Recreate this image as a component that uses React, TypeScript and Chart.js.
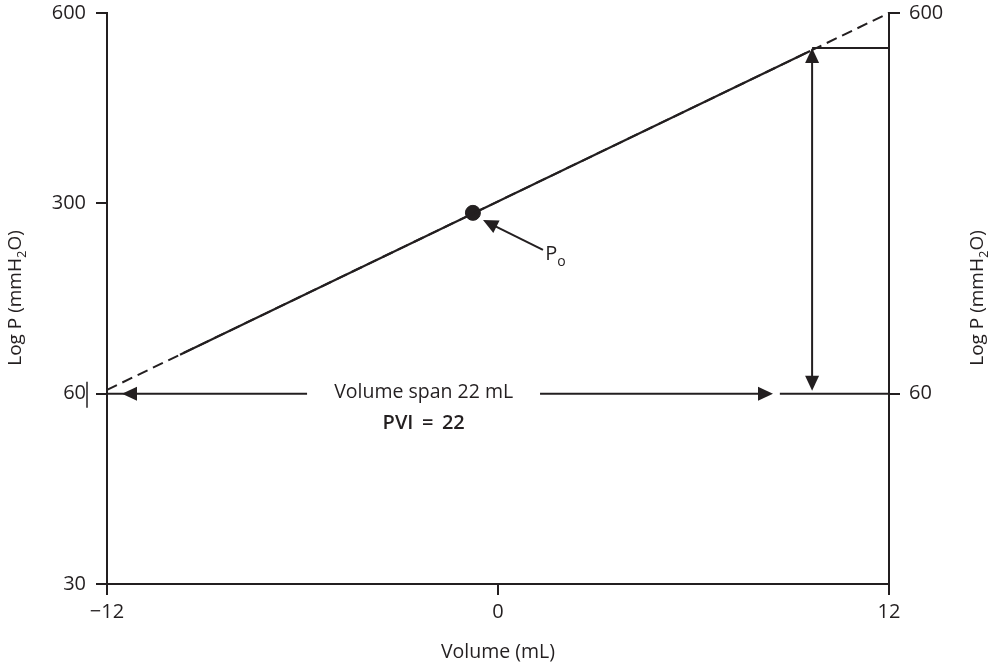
import React, { useEffect, useRef } from 'react';
import { Chart, registerables } from 'chart.js';

Chart.register(...registerables);

const FONT = '"Open Sans", "Noto Sans", sans-serif';
const INK = '#231f20';

// X axis (volume, mL)
const xTickValues = [-12, 0, 12];
const xTickLabels = ['\u221212', '0', '12'];

// Y axis: pressure levels drawn at equal spacing (position index)
const yTickValues = [0, 1, 2, 3];
const yTickLabels = ['30', '60', '300', '600'];
const yRightTickValues = [1, 3];
const yRightTickLabels = ['60', '600'];

// Pressure-volume line (extrapolated, dashed)
const lineVolumes = [-12, 12];
const lineLevels = [1.02, 3.0];
// Measured (solid) part of the line
const solidVolumes = [-9.76, 9.58];
const solidLevels = [1.205, 2.8];

// P0 point
const p0Volumes = [-0.77];
const p0Levels = [1.95];

// Annotation values (data units)
const spanLevel = 1;
const spanLeftTip = -11.54;
const spanRightTip = 8.44;
const spanGap = [-5.86, 1.29];
const spanTail = [8.65, 12];
const spanText = 'Volume span 22 mL';
const pviText = 'PVI \u2009=\u2009 22';
const textVolume = -2.28;
const pviLevel = 0.845;
const vertVolume = 9.64;
const vertTop = 2.816;
const vertBottom = 1.015;
const p0ArrowTail = [1.38, 1.755];
const p0ArrowTip = [-0.46, 1.912];
const p0LabelPos = [1.45, 1.70];

const annotations = {
  id: 'annotations',
  afterDraw(chart: any) {
    const { ctx } = chart;
    const x = chart.scales.x;
    const y = chart.scales.y;
    const X = (v: number) => x.getPixelForValue(v);
    const Y = (v: number) => y.getPixelForValue(v);
    ctx.save();
    ctx.strokeStyle = INK;
    ctx.fillStyle = INK;
    ctx.lineWidth = 2;
    ctx.lineCap = 'butt';
    const line = (x1: number, y1: number, x2: number, y2: number) => {
      ctx.beginPath();
      ctx.moveTo(x1, y1);
      ctx.lineTo(x2, y2);
      ctx.stroke();
    };
    const head = (tx: number, ty: number, fx: number, fy: number, len = 15, hw = 7) => {
      const a = Math.atan2(ty - fy, tx - fx);
      const bx = tx - Math.cos(a) * len;
      const by = ty - Math.sin(a) * len;
      const nx = -Math.sin(a) * hw;
      const ny = Math.cos(a) * hw;
      ctx.beginPath();
      ctx.moveTo(tx, ty);
      ctx.lineTo(bx + nx, by + ny);
      ctx.lineTo(bx - nx, by - ny);
      ctx.closePath();
      ctx.fill();
    };

    // Horizontal span arrow at 60
    const ys = Y(spanLevel);
    line(X(-12), ys, X(spanGap[0]), ys);
    head(X(spanLeftTip), ys, X(spanGap[0]), ys);
    line(X(spanGap[1]), ys, X(spanRightTip) - 4, ys);
    head(X(spanRightTip), ys, X(spanGap[1]), ys);
    line(X(spanTail[0]), ys, X(spanTail[1]), ys);

    // small bar next to left "60" label
    ctx.lineWidth = 1.5;
    line(X(-12) - 20, ys - 12, X(-12) - 20, ys + 14);
    ctx.lineWidth = 2;

    // Vertical double arrow
    const vx = X(vertVolume);
    line(vx, Y(vertTop) + 6, vx, Y(vertBottom) - 6);
    head(vx, Y(vertTop), vx, Y(vertBottom));
    head(vx, Y(vertBottom), vx, Y(vertTop));
    line(vx, Y(vertTop), X(12), Y(vertTop));

    // P0 arrow
    const tx = X(p0ArrowTip[0]);
    const ty = Y(p0ArrowTip[1]);
    const fx = X(p0ArrowTail[0]);
    const fy = Y(p0ArrowTail[1]);
    line(fx, fy, tx + (fx - tx) * 0.15, ty + (fy - ty) * 0.15);
    head(tx, ty, fx, fy, 15, 7);

    // Texts
    ctx.textAlign = 'center';
    ctx.textBaseline = 'middle';
    ctx.font = `500 19.5px ${FONT}`;
    ctx.fillText(spanText, X(textVolume), ys - 1);
    ctx.font = `600 20px ${FONT}`;
    ctx.fillText(pviText, X(textVolume), Y(pviLevel));

    // P0 label
    ctx.textAlign = 'left';
    ctx.textBaseline = 'alphabetic';
    const lx = X(p0LabelPos[0]);
    const ly = Y(p0LabelPos[1]);
    ctx.font = `20px ${FONT}`;
    ctx.fillText('P', lx, ly);
    const pw = ctx.measureText('P').width;
    ctx.font = `500 14px ${FONT}`;
    ctx.fillText('o', lx + pw, ly + 6);

    // Axis titles
    ctx.font = `19.5px ${FONT}`;
    ctx.textAlign = 'center';
    ctx.textBaseline = 'middle';
    ctx.fillText('Volume (mL)', X(0), 652);

    const drawYTitle = (cx: number, cy: number) => {
      ctx.save();
      ctx.translate(cx, cy);
      ctx.rotate(-Math.PI / 2);
      ctx.textAlign = 'left';
      ctx.textBaseline = 'middle';
      const big = `19px ${FONT}`;
      const small = `13px ${FONT}`;
      const p1 = 'Log P (mmH';
      const p2 = '2';
      const p3 = 'O)';
      ctx.font = big;
      const w1 = ctx.measureText(p1).width;
      const w3 = ctx.measureText(p3).width;
      ctx.font = small;
      const w2 = ctx.measureText(p2).width;
      let sx = -(w1 + w2 + w3) / 2;
      ctx.font = big;
      ctx.fillText(p1, sx, 0);
      sx += w1;
      ctx.font = small;
      ctx.fillText(p2, sx, 6);
      sx += w2;
      ctx.font = big;
      ctx.fillText(p3, sx, 0);
      ctx.restore();
    };
    drawYTitle(16, 298);
    drawYTitle(978, 298);

    ctx.restore();
  },
};

export default function App() {
  const ref = useRef<HTMLCanvasElement | null>(null);

  useEffect(() => {
    if (!ref.current) return;
    const tickFont = { family: FONT, size: 20 };
    const yTickFont = { family: FONT, size: 20, lineHeight: 0.3 };
    const chart = new Chart(ref.current, {
      type: 'scatter',
      data: {
        datasets: [
          {
            data: lineVolumes.map((v, i) => ({ x: v, y: lineLevels[i] })),
            showLine: true,
            borderColor: INK,
            borderWidth: 2,
            borderDash: [11, 6],
            pointRadius: 0,
            clip: false,
          },
          {
            data: solidVolumes.map((v, i) => ({ x: v, y: solidLevels[i] })),
            showLine: true,
            borderColor: INK,
            borderWidth: 2.2,
            pointRadius: 0,
            clip: false,
          },
          {
            data: p0Volumes.map((v, i) => ({ x: v, y: p0Levels[i] })),
            showLine: false,
            pointRadius: 7.5,
            pointBackgroundColor: INK,
            pointBorderColor: INK,
            clip: false,
          },
        ],
      } as any,
      options: {
        animation: false,
        responsive: false,
        devicePixelRatio: 1,
        layout: { padding: { top: 13, left: 0, right: 0, bottom: 0 } },
        plugins: {
          legend: { display: false },
          tooltip: { enabled: false },
          title: { display: false },
        },
        scales: {
          x: {
            type: 'linear',
            position: 'bottom',
            min: -12,
            max: 12,
            afterBuildTicks: (s: any) => {
              s.ticks = xTickValues.map((v) => ({ value: v }));
            },
            afterFit: (s: any) => {
              s.height = 85;
            },
            ticks: {
              font: tickFont,
              color: INK,
              padding: 5,
              maxRotation: 0,
              autoSkip: false,
              callback: (v: any) => xTickLabels[xTickValues.indexOf(Number(v))] ?? '',
            },
            grid: { drawOnChartArea: false, drawTicks: true, tickLength: 11, color: INK, lineWidth: 2 },
            border: { display: true, color: INK, width: 2 },
          },
          y: {
            type: 'linear',
            position: 'left',
            min: 0,
            max: 3,
            afterBuildTicks: (s: any) => {
              s.ticks = yTickValues.map((v) => ({ value: v }));
            },
            afterFit: (s: any) => {
              s.width = 107;
            },
            ticks: {
              font: yTickFont,
              color: INK,
              padding: 10,
              autoSkip: false,
              callback: (v: any) => yTickLabels[yTickValues.indexOf(Number(v))] ?? '',
            },
            grid: { drawOnChartArea: false, drawTicks: true, tickLength: 11, color: INK, lineWidth: 2 },
            border: { display: true, color: INK, width: 2 },
          },
          y2: {
            type: 'linear',
            position: 'right',
            min: 0,
            max: 3,
            afterBuildTicks: (s: any) => {
              s.ticks = yRightTickValues.map((v) => ({ value: v }));
            },
            afterFit: (s: any) => {
              s.width = 105;
            },
            ticks: {
              font: yTickFont,
              color: INK,
              padding: 9,
              autoSkip: false,
              callback: (v: any) => yRightTickLabels[yRightTickValues.indexOf(Number(v))] ?? '',
            },
            grid: { drawOnChartArea: false, drawTicks: true, tickLength: 11, color: INK, lineWidth: 2 },
            border: { display: true, color: INK, width: 2 },
          },
        },
      } as any,
      plugins: [annotations],
    });
    return () => chart.destroy();
  }, []);

  return (
    <div style={{ position: 'fixed', left: 0, top: 0, width: 994, height: 669, background: '#fff' }}>
      <canvas ref={ref} width={994} height={669} style={{ display: 'block', width: 994, height: 669 }} />
    </div>
  );
}
